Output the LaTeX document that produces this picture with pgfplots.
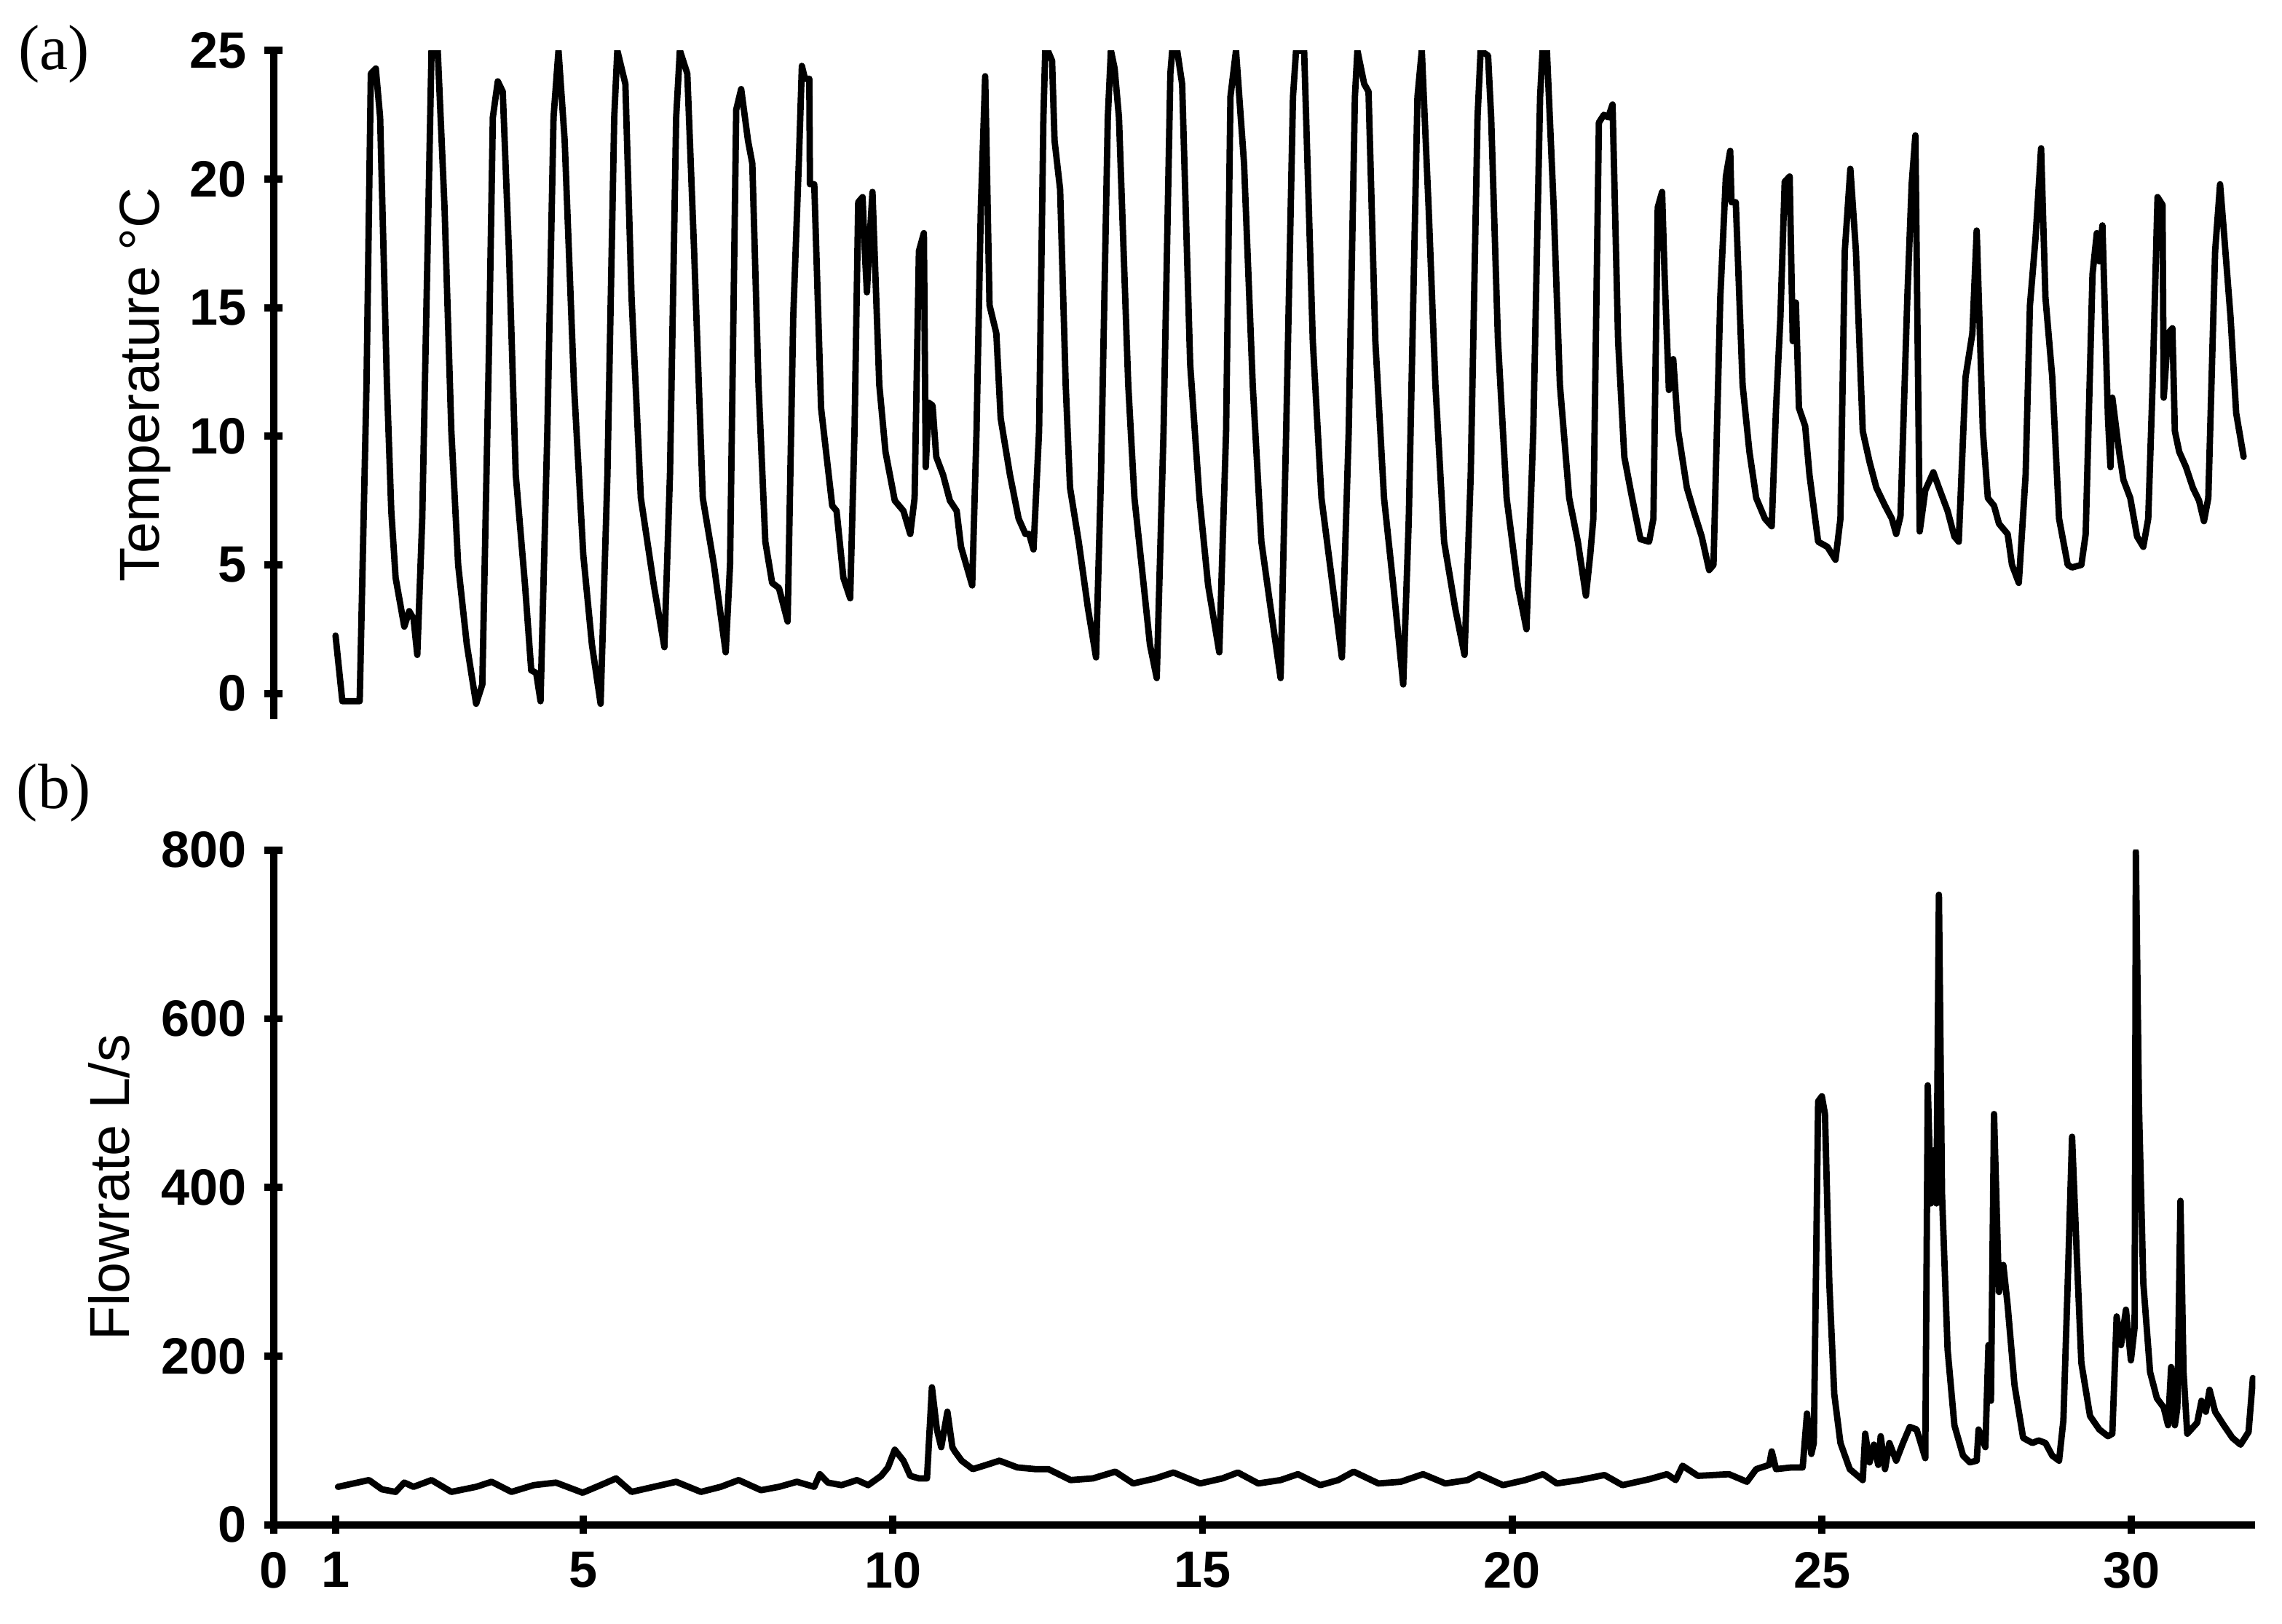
\documentclass[border=0pt]{standalone}
\usepackage{fontspec}
\setmainfont{Liberation Sans}
\newfontfamily\panelfont{Liberation Serif}
\usepackage{pgfplots}
\pgfplotsset{compat=1.18}

\pgfplotsset{
  panel/.style={
    scale only axis,
    width=13.617cm,
    xmin=0, xmax=32,
    tick style={line width=1.4pt, black},
    major tick length=0.125cm,
    tick align=outside,
    clip=true,
    /pgf/number format/assume math mode=true,
    ticklabel style={font=\fontsize{10}{12}\selectfont\bfseries},
    ylabel style={font=\fontsize{11}{13}\selectfont, anchor=center},
  },
  trace/.style={black, line width=1.25pt, line join=round, line cap=round},
}

\begin{document}
\begin{tikzpicture}[x=1cm, y=1cm]
\path[use as bounding box] (0,0) rectangle (15.68,11.16);

% (a) temperature
\begin{axis}[panel,
  at={(1.88cm,6.217cm)}, anchor=south west,
  height=4.596cm,
  ymin=-1, ymax=25,
  ytick={0,5,10,15,20,25},
  axis y line=left, axis x line=none,
  axis line style={line width=1.4pt, -},
  ylabel={Temperature °C},
  ylabel style={at={(axis description cs:-0.0646,0.5)}},
]
\addplot[trace] coordinates {
(1.00,2.25) (1.11,-0.3) (1.39,-0.3) (1.50,12) (1.57,24.1) (1.65,24.3) (1.72,22.4)
(1.83,12) (1.90,7.1) (1.97,4.5) (2.11,2.6) (2.19,3.2) (2.26,2.9) (2.32,1.5)
(2.40,6.8) (2.55,25) (2.65,25) (2.76,18.9) (2.87,10.2) (2.98,5) (3.12,1.9)
(3.27,-0.4) (3.37,0.35) (3.48,13.7) (3.54,22.4) (3.62,23.8) (3.70,23.4) (3.80,17.2)
(3.91,8.5) (4.06,4.2) (4.16,0.9) (4.24,0.8) (4.31,-0.3) (4.42,10.2) (4.52,22.4)
(4.60,25) (4.70,21.5) (4.85,12) (5.00,5.4) (5.14,1.9) (5.28,-0.4) (5.39,8.5)
(5.50,22.4) (5.55,25) (5.68,23.7) (5.78,15.4) (5.93,7.6) (6.14,4.2) (6.31,1.8)
(6.40,8.5) (6.50,22.4) (6.56,25) (6.68,24.1) (6.79,17.2) (6.93,7.6) (7.11,5)
(7.30,1.6) (7.37,5) (7.47,22.7) (7.55,23.5) (7.66,21.5) (7.73,20.6) (7.83,12)
(7.94,5.9) (8.05,4.3) (8.16,4.1) (8.30,2.8) (8.39,14.6) (8.48,20.6) (8.53,24.4)
(8.58,23.9) (8.65,23.9) (8.66,19.8) (8.73,19.8) (8.84,11.1) (9.02,7.3) (9.09,7.1)
(9.20,4.5) (9.31,3.7) (9.38,10.2) (9.44,19.1) (9.51,19.3) (9.54,17.5) (9.58,15.6)
(9.62,17.5) (9.67,19.5) (9.78,12) (9.88,9.4) (10.03,7.5) (10.17,7.1) (10.28,6.2)
(10.35,7.6) (10.42,17.2) (10.50,17.9) (10.53,8.8) (10.58,11.3) (10.64,11.2)
(10.70,9.2) (10.81,8.5) (10.92,7.5) (11.03,7.1) (11.10,5.7) (11.28,4.2)
(11.35,10.2) (11.42,18.9) (11.49,24.0) (11.56,15.1) (11.67,14.0) (11.74,10.7)
(11.89,8.5) (12.03,6.8) (12.14,6.2) (12.20,6.2) (12.27,5.6) (12.36,10.2)
(12.43,22.4) (12.46,25) (12.50,25) (12.57,24.6) (12.61,21.5) (12.70,19.6)
(12.79,12) (12.86,8) (13.00,5.9) (13.15,3.3) (13.28,1.4) (13.36,8.5) (13.47,22.4)
(13.52,25) (13.58,24.3) (13.65,22.4) (13.80,12) (13.90,7.6) (14.05,4.2) (14.15,1.9)
(14.26,0.6) (14.37,10.2) (14.48,24.1) (14.51,25) (14.59,25) (14.67,23.7) (14.80,12.8)
(14.95,7.6) (15.09,4.2) (15.27,1.6) (15.38,10.2) (15.45,23.2) (15.54,25) (15.67,20.6)
(15.81,12) (15.95,5.9) (16.10,3.3) (16.26,0.6) (16.35,10.2) (16.46,23.2) (16.51,25)
(16.64,25) (16.78,13.7) (16.92,7.6) (17.10,4.2) (17.25,1.4) (17.36,10.2) (17.46,23.2)
(17.50,25) (17.61,23.7) (17.68,23.4) (17.79,13.7) (17.93,7.6) (18.08,4.2) (18.24,0.35)
(18.33,6.8) (18.47,23.2) (18.54,25) (18.65,18.9) (18.76,12) (18.90,5.9) (19.08,3.3)
(19.23,1.5) (19.33,8.5) (19.44,22.4) (19.49,25) (19.61,24.8) (19.66,22.4) (19.77,13.7)
(19.91,7.6) (20.09,4.2) (20.23,2.5) (20.34,10.2) (20.45,23.2) (20.49,25) (20.56,25)
(20.67,18.9) (20.77,12) (20.92,7.6) (21.06,5.9) (21.19,3.8) (21.26,5.4) (21.31,6.8)
(21.40,22.2) (21.48,22.5) (21.55,22.4) (21.62,22.9) (21.71,13.7) (21.81,9.2)
(21.92,7.8) (22.07,6.0) (22.21,5.9) (22.28,6.8) (22.35,18.9) (22.42,19.5) (22.46,16.3)
(22.53,11.8) (22.60,13.0) (22.68,10.2) (22.82,8) (22.93,7.1) (23.06,6.1) (23.18,4.8)
(23.25,5.0) (23.36,15.4) (23.45,20.1) (23.52,21.1) (23.54,19.1) (23.61,19.1)
(23.72,12) (23.83,9.4) (23.94,7.6) (24.08,6.8) (24.19,6.5) (24.26,11.1) (24.33,14.6)
(24.40,19.9) (24.48,20.1) (24.53,13.7) (24.58,15.2) (24.63,11.1) (24.73,10.4)
(24.80,8.5) (24.94,5.9) (25.09,5.7) (25.22,5.2) (25.30,6.8) (25.37,17.2) (25.46,20.4)
(25.55,17.2) (25.66,10.2) (25.77,9.0) (25.88,8) (26.02,7.3) (26.13,6.8) (26.20,6.2)
(26.27,6.9) (26.38,15.4) (26.45,19.8) (26.51,21.7) (26.58,6.3) (26.67,7.9) (26.80,8.6)
(26.89,8) (27.03,7.1) (27.14,6.1) (27.21,5.9) (27.32,12.3) (27.43,14.0) (27.50,18.0)
(27.60,10.2) (27.68,7.6) (27.78,7.3) (27.86,6.6) (28.00,6.2) (28.07,5.0) (28.18,4.3)
(28.29,8.5) (28.36,15.1) (28.45,17.7) (28.54,21.2) (28.61,15.4) (28.72,12.3)
(28.83,6.8) (28.97,5) (29.04,4.9) (29.19,5) (29.26,6.2) (29.37,16.3) (29.44,17.9)
(29.48,16.8) (29.53,18.2) (29.62,10.7) (29.66,8.8) (29.69,11.5) (29.80,9.4)
(29.87,8.3) (29.98,7.6) (30.09,6.1) (30.19,5.7) (30.27,6.8) (30.34,12) (30.42,19.3)
(30.50,19.0) (30.52,11.5) (30.59,14.0) (30.66,14.2) (30.70,10.2) (30.77,9.4)
(30.88,8.8) (30.99,8) (31.09,7.5) (31.17,6.7) (31.24,7.6) (31.35,17.2) (31.43,19.8)
(31.49,18.0) (31.60,14.6) (31.69,10.9) (31.81,9.2)
};
\end{axis}

% (b) flow rate
\begin{axis}[panel,
  at={(1.88cm,0.68cm)}, anchor=south west,
  height=4.638cm,
  ymin=0, ymax=800,
  ytick={0,200,400,600,800},
  axis y line=left, axis x line=bottom,
  axis line style={line width=1.4pt, -},
  xtick={0,1,5,10,15,20,25,30},
  ylabel={Flowrate L/s},
  ylabel style={at={(axis description cs:-0.083,0.5)}},
]
\addplot[trace] coordinates {
(1.04,45) (1.54,53) (1.75,42) (1.97,39) (2.11,50) (2.26,45) (2.55,53) (2.87,39)
(3.27,45) (3.52,51) (3.84,39) (4.20,47) (4.56,50) (4.99,38) (5.28,47) (5.53,55)
(5.78,39) (6.14,45) (6.50,51) (6.90,39) (7.22,45) (7.51,53) (7.87,41) (8.16,45)
(8.45,51) (8.73,45) (8.82,60) (8.95,50) (9.17,47) (9.42,53) (9.60,47) (9.81,58)
(9.92,68) (10.03,89) (10.17,76) (10.28,58) (10.42,55) (10.55,55) (10.63,163)
(10.71,113) (10.78,92) (10.88,134) (10.96,92) (11.00,87) (11.11,76) (11.29,66)
(11.51,71) (11.72,76) (12.01,68) (12.30,66) (12.51,66) (12.87,53) (13.23,55)
(13.59,63) (13.88,49) (14.24,55) (14.53,62) (14.96,49) (15.32,55) (15.57,62)
(15.90,49) (16.26,53) (16.54,60) (16.90,47) (17.19,53) (17.44,63) (17.84,49)
(18.20,51) (18.56,60) (18.92,49) (19.28,53) (19.46,60) (19.85,47) (20.21,53)
(20.50,60) (20.72,49) (21.08,53) (21.49,59) (21.78,47) (22.21,54) (22.50,60)
(22.64,53) (22.75,70) (23.00,58) (23.50,60) (23.79,51) (23.94,66) (24.15,71)
(24.19,87) (24.26,66) (24.51,68) (24.69,68) (24.76,132) (24.83,84) (24.87,97)
(24.94,502) (25.00,508) (25.05,487) (25.12,287) (25.20,155) (25.30,97) (25.45,66)
(25.66,53) (25.70,108) (25.77,74) (25.84,95) (25.91,71) (25.95,105) (26.02,66)
(26.09,97) (26.20,76) (26.31,97) (26.42,116) (26.53,113) (26.67,79) (26.71,521)
(26.76,381) (26.81,444) (26.85,381) (26.89,747) (26.94,392) (27.03,208) (27.14,118)
(27.28,82) (27.39,74) (27.50,76) (27.53,113) (27.64,92) (27.69,213) (27.73,147)
(27.78,487) (27.86,276) (27.93,308) (28.00,260) (28.11,166) (28.25,103) (28.40,97)
(28.50,100) (28.61,97) (28.72,82) (28.83,76) (28.90,124) (28.97,287) (29.04,460)
(29.12,313) (29.19,192) (29.33,129) (29.48,113) (29.62,105) (29.69,108) (29.76,247)
(29.83,213) (29.91,255) (29.99,195) (30.05,234) (30.07,798) (30.12,497) (30.19,287)
(30.30,181) (30.41,150) (30.52,139) (30.59,118) (30.64,187) (30.70,118) (30.74,139)
(30.79,384) (30.84,181) (30.90,108) (31.06,121) (31.13,147) (31.20,134) (31.26,160)
(31.35,134) (31.49,118) (31.63,103) (31.76,95) (31.89,110) (31.96,174)
};
\end{axis}

\node[font=\panelfont\fontsize{12.5}{14}\selectfont] at (0.37,10.79) {(a)};
\node[font=\panelfont\fontsize{12.5}{14}\selectfont] at (0.37,5.71) {(b)};
\end{tikzpicture}
\end{document}
